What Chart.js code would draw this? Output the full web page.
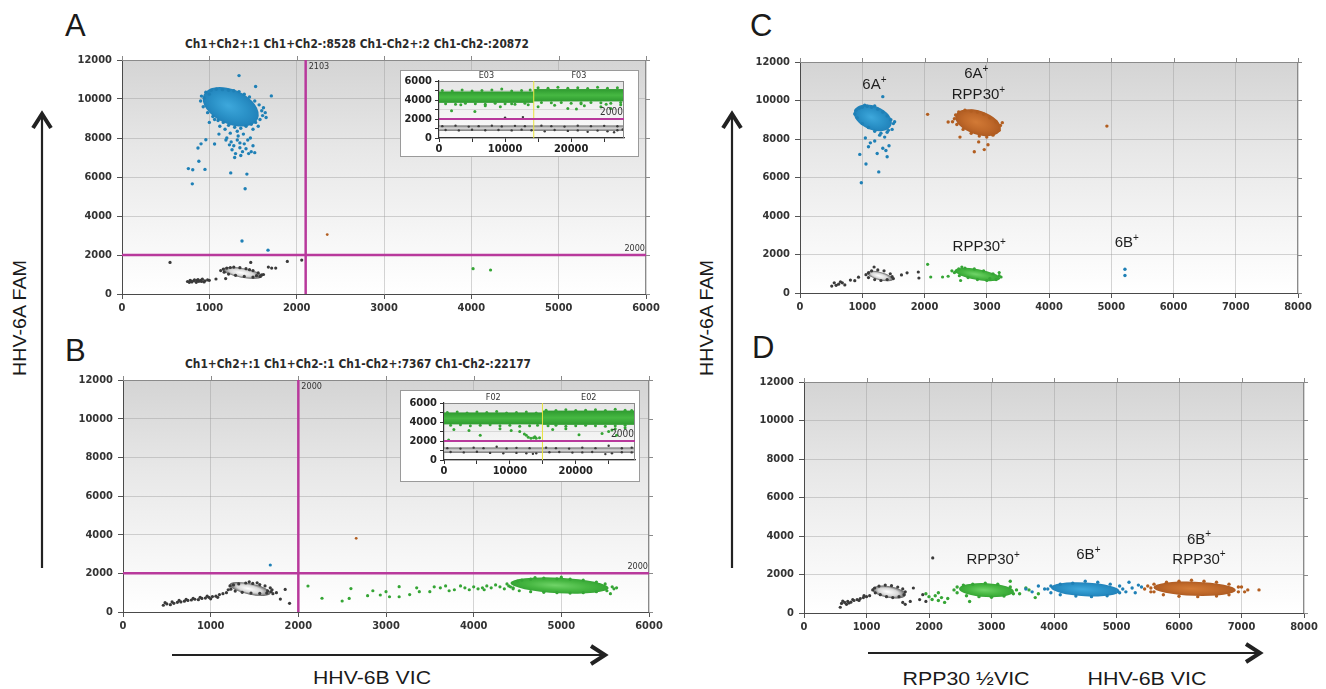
<!DOCTYPE html>
<html lang="en">
<head>
<meta charset="UTF-8">
<title>HHV-6A / HHV-6B droplet plots</title>
<script src="https://cdn.jsdelivr.net/npm/chart.js"></script>
<style>
  body { margin: 0; width: 1326px; height: 689px; background: #fff; position: relative; overflow: hidden; }
  .panel { position: absolute; }
  .inset { position: absolute; background: #fff; border: 1px solid #9a9a9a; box-sizing: border-box; }
  svg.deco { position: absolute; left: 0; top: 0; pointer-events: none; }
</style>
</head>
<body>

<svg class="deco" width="1326" height="689">
  <g font-family="Liberation Sans, Arial, sans-serif" fill="#1a1a1a">
    <text x="65" y="36" font-size="31">A</text>
    <text x="65" y="361" font-size="31">B</text>
    <text x="750" y="36" font-size="31">C</text>
    <text x="752" y="358" font-size="31">D</text>
    <text transform="translate(26,318) rotate(-90)" text-anchor="middle" font-size="19" textLength="116" lengthAdjust="spacingAndGlyphs">HHV-6A FAM</text>
    <text transform="translate(713,318) rotate(-90)" text-anchor="middle" font-size="19" textLength="116" lengthAdjust="spacingAndGlyphs">HHV-6A FAM</text>
    <text x="372" y="684" text-anchor="middle" font-size="19" textLength="118" lengthAdjust="spacingAndGlyphs">HHV-6B VIC</text>
    <text x="966" y="685" text-anchor="middle" font-size="19" textLength="127" lengthAdjust="spacingAndGlyphs">RPP30 ½VIC</text>
    <text x="1147" y="685" text-anchor="middle" font-size="19" textLength="119" lengthAdjust="spacingAndGlyphs">HHV-6B VIC</text>
  </g>
  <g font-family="DejaVu Sans Condensed, DejaVu Sans, sans-serif" font-weight="bold" font-size="12" fill="#2a2a2a">
    <text x="357" y="48" text-anchor="middle" textLength="344" lengthAdjust="spacingAndGlyphs">Ch1+Ch2+:1 Ch1+Ch2-:8528 Ch1-Ch2+:2 Ch1-Ch2-:20872</text>
    <text x="358" y="368" text-anchor="middle" textLength="346" lengthAdjust="spacingAndGlyphs">Ch1+Ch2+:1 Ch1+Ch2-:1 Ch1-Ch2+:7367 Ch1-Ch2-:22177</text>
  </g>
  <g stroke="#222" fill="none" stroke-linejoin="miter">
    <line x1="42" y1="568" x2="42" y2="116" stroke-width="2.2"/>
    <polyline points="33,128 42,114 51,128" stroke-width="4"/>
    <line x1="732" y1="568" x2="732" y2="116" stroke-width="2.2"/>
    <polyline points="723,128 732,114 741,128" stroke-width="4"/>
    <line x1="172" y1="655" x2="602" y2="655" stroke-width="2.2"/>
    <polyline points="591,646 605,655 591,664" stroke-width="4"/>
    <line x1="868" y1="653" x2="1257" y2="653" stroke-width="2.2"/>
    <polyline points="1246,644 1260,653 1246,662" stroke-width="4"/>
  </g>
</svg>

<div class="panel" style="left:60px;top:48px;"><canvas id="cA"></canvas></div>
<div class="panel" style="left:61px;top:368px;"><canvas id="cB"></canvas></div>
<div class="panel" style="left:738px;top:50px;"><canvas id="cC"></canvas></div>
<div class="panel" style="left:742px;top:370px;"><canvas id="cD"></canvas></div>
<div class="inset" style="left:400px;top:70px;width:239px;height:87px;"><canvas id="iA"></canvas></div>
<div class="inset" style="left:400px;top:390px;width:240px;height:92px;"><canvas id="iB"></canvas></div>

<script>
// ---- axis ticks ----
const famTicks = [0, 2000, 4000, 6000, 8000, 10000, 12000];
const vicTicksAB = [0, 1000, 2000, 3000, 4000, 5000, 6000];
const vicTicksCD = [0, 1000, 2000, 3000, 4000, 5000, 6000, 7000, 8000];
const insetEventTicks = [0, 5000, 10000, 15000, 20000, 25000];
const insetFamTicks = [0, 1000, 2000, 3000, 4000, 5000, 6000];

// ---- droplet data: flat [x, y, x, y ...] lists, x = VIC amplitude, y = FAM amplitude ----

// Panel A
const A_negDots = [750,640, 770,600, 780,700, 800,620, 820,680, 830,720, 850,600, 860,700, 880,650, 900,700,
  920,760, 940,620, 950,680, 980,720, 1000,700, 790,660, 870,740, 910,640,
  550,1620, 1076,770, 1187,790, 1474,1620, 1676,1380, 1714,1330, 1760,1330, 1893,1670, 2058,1740,
  1160,1280, 1200,1330, 1280,1380, 1350,1350, 1420,1300, 1500,1200, 1560,1080, 1600,980, 1580,900, 1500,870,
  1400,900, 1300,960, 1220,1020, 1170,1120, 1130,1200, 1620,1000, 1240,1360, 1460,1250, 1540,940];
const A_famDots = [1340,11200, 1530,10640, 1710,10160, 760,6430, 810,6370, 880,6810, 950,6390, 805,5650,
  1245,6210, 1430,6150, 1410,5400, 870,7490, 905,7700, 960,7910, 1060,7690, 1110,8200,
  1200,8000, 1250,7800, 1280,7600, 1320,7900, 1350,7500, 1380,7300, 1400,7700, 1300,7200, 1260,7400, 1420,7450,
  1450,7200, 1480,7300, 1500,7600, 1230,7650, 1360,7100, 1440,7900, 1330,8100, 1470,8000, 1290,7000, 1390,8200,
  1240,8250, 1520,7250, 1350,7750, 1190,7900, 1374,2720, 1672,2250,
  960,10350, 1020,10450, 1080,10500, 1150,10480, 1220,10450, 1280,10420, 1340,10380, 1400,10250, 1460,10100,
  1520,9900, 1570,9700, 1600,9400, 1610,9150, 1580,8950, 1530,8800, 1480,8700, 1420,8600, 1360,8500, 1290,8550,
  1220,8650, 1160,8800, 1100,8900, 1040,9100, 980,9300, 930,9600, 900,9900, 910,10150, 1640,9300, 1650,9050,
  1000,8800, 1120,8600, 1500,8450, 1560,8600, 1320,8350, 1180,8450, 940,10050, 1000,10250, 1620,9550, 1060,8950];
const A_vicDots = [4020,1300, 4220,1230];
const A_dblDots = [2350,3050];
// dense cluster cores: [centre x, centre y, spread x, spread y, tilt deg]
const A_negCore = [1380, 1080, 230, 250, 10];
const A_famCore = [1245, 9600, 340, 880, 24];
const A_thresh = [2103, 2000];

// Panel B
const B_negDots = [460,350, 480,480, 500,420, 540,380, 560,520, 580,450, 620,500, 640,600, 660,520, 700,560,
  720,650, 740,600, 780,620, 800,700, 820,660, 860,640, 880,760, 900,700, 940,720, 960,820, 980,760, 1000,680,
  1020,800, 1060,820, 1080,760, 1100,900, 1140,950, 1180,1000, 1200,1150,
  1850,1170, 1795,670, 1900,450, 1750,1000,
  1220,1350, 1260,1400, 1320,1450, 1400,1500, 1480,1480, 1560,1420, 1620,1350, 1680,1250, 1700,1150, 1690,1050,
  1640,980, 1560,960, 1460,980, 1360,1020, 1280,1080, 1230,1180, 1710,950, 1650,1100, 1440,1560, 1530,1510];
const B_famDots = [1680,2430];
const B_vicDots = [2110,1345, 2270,710, 2500,570, 2580,700, 2600,1210, 2790,845, 2935,880, 3040,790, 3150,1310,
  3150,790, 3270,900, 3380,1050, 3500,1050, 3550,1300, 3620,1250, 3680,1350, 3780,1150, 3850,1350, 3900,1250,
  3950,1150, 4000,1300, 4050,1200, 4100,1250, 4150,1350, 4200,1250, 4250,1400, 4300,1300, 4350,1200, 4400,1350,
  4450,1250, 3720,1100, 4120,1150, 3350,1250, 3000,1050, 2850,1100,
  4450,1200, 4500,1600, 4550,1650, 4650,1700, 4800,1750, 4950,1720, 5100,1700, 5250,1650, 5400,1550, 5500,1450,
  5580,1300, 5600,1200, 5520,1100, 5400,1050, 5250,1000, 5100,980, 4950,1000, 4800,1020, 4650,1050, 4520,1100,
  4420,1300, 4380,1450, 5630,1250, 5560,950, 4700,1780, 5000,1800];
const B_dblDots = [2660,3810];
const B_negCore = [1450, 1190, 240, 285, 12];
const B_vicCore = [4980, 1370, 560, 400, 3];
const B_thresh = [2000, 2000];

// Panel C
const C_negDots = [510,360, 550,530, 580,400, 620,460, 650,580, 680,530, 720,420, 810,670, 880,640, 940,820,
  1190,1350, 1630,940, 1720,1050, 1900,1090, 1910,780,
  1100,1050, 1150,1150, 1250,1200, 1350,1150, 1450,1000, 1480,850, 1400,700, 1300,650, 1200,700, 1100,800,
  1060,950, 1500,750];
const C_famDots = [960,7200, 1060,6700, 1265,6290, 985,5730, 1330,7520, 1400,7080, 1240,7250, 1130,7800,
  1050,8050, 1280,8200, 1430,7650, 1360,8100, 1100,7600, 1330,10200, 1200,7900, 1380,7400, 5220,1230, 5220,910,
  900,9500, 950,9600, 1000,9650, 1080,9700, 1150,9650, 1250,9550, 1330,9400, 1400,9200, 1460,9000, 1500,8800,
  1480,8500, 1400,8350, 1300,8300, 1200,8400, 1100,8600, 1000,8800, 920,9100, 880,9300, 1520,8900, 1420,8450,
  1040,9760, 1200,9720];
const C_vicDots = [2050,1490, 2100,830, 2290,830, 2380,870, 2480,1060, 2580,650, 3200,1060, 3230,830, 2440,1150,
  2550,1250, 2650,1300, 2800,1250, 2950,1150, 3100,1000, 3200,900, 3150,700, 3000,650, 2850,700, 2700,800,
  2560,900, 2500,1100, 2600,1350, 3050,750];
const C_dblDots = [2050,9280, 2380,8880, 4930,8670, 2800,7340, 2960,7450, 2870,7850, 3020,7700, 2570,8100,
  2550,9400, 2650,9500, 2750,9450, 2850,9400, 2950,9300, 3050,9100, 3150,8900, 3220,8700, 3200,8450, 3100,8200,
  3000,8100, 2880,8150, 2750,8300, 2620,8500, 2520,8750, 2480,9050, 2500,9250, 3250,8850, 2450,8900];
const C_negCore = [1285, 880, 217, 208, 15];
const C_famCore = [1170, 9100, 320, 620, 22];
const C_vicCore = [2850, 960, 370, 280, 10];
const C_dblCore = [2860, 8850, 380, 620, 18];
const C_labelMain = ['6A', '6A', 'RPP30', 'RPP30', '6B'];
const C_labelX = [1196, 2833, 2867, 2880, 5250];
const C_labelY = [10800, 11380, 10290, 2400, 2580];

// Panel D
const D_negDots = [580,300, 600,500, 620,620, 650,550, 680,450, 700,600, 720,520, 750,560, 780,700, 800,650,
  850,700, 880,650, 900,750, 950,800, 960,900, 1000,850, 1050,900,
  1580,550, 1620,450, 1700,600, 1750,1300, 1850,700, 1900,950, 1950,600, 2060,2860,
  1130,1300, 1200,1400, 1300,1450, 1400,1420, 1500,1350, 1580,1250, 1620,1100, 1600,950, 1520,850, 1420,800,
  1320,850, 1220,950, 1140,1050, 1100,1200];
const D_famDots = [3550,1250, 3650,1100, 3750,1400, 3850,1250, 5150,1100, 5200,1600, 5250,1300, 5300,1050,
  5350,1450, 5400,1350, 3950,1400, 4100,1500, 4300,1550, 4500,1650, 4700,1600, 4900,1500, 5050,1400, 5100,1250,
  5050,1050, 4850,900, 4600,850, 4350,880, 4100,950, 3950,1050, 3900,1250];
const D_vicDots = [1950,1000, 2000,850, 2050,700, 2100,900, 2150,650, 2150,1050, 2200,800, 2250,550, 2300,750,
  2450,1350, 2550,1450, 2700,1500, 2900,1550, 3100,1500, 3300,1350, 3400,1200, 3350,1000, 3200,880, 3000,820,
  2800,850, 2600,900, 2450,1050, 2400,1200, 3300,1650, 2650,600, 3450,1000, 3550,1300, 3600,1200, 3700,800, 3750,1000];
const D_dblDots = [5450,1250, 5500,1400, 5550,1100, 7050,1100, 7100,1200, 7280,1200, 7000,1350,
  5600,1500, 5800,1600, 6000,1650, 6200,1700, 6400,1650, 6600,1600, 6800,1500, 6950,1350, 6950,1100, 6800,950,
  6600,880, 6300,850, 6000,870, 5750,950, 5600,1100, 5550,1300];
const D_negCore = [1360, 1090, 272, 300, 10];
const D_vicCore = [2920, 1190, 440, 360, 3];
const D_famCore = [4500, 1230, 550, 360, 3];
const D_dblCore = [6250, 1260, 660, 370, 2];
const D_labelMain = ['RPP30', '6B', '6B', 'RPP30'];
const D_labelX = [3025, 4550, 6320, 6320];
const D_labelY = [2740, 3000, 3810, 2770];

// Insets: x = droplet event number, y = FAM amplitude
const IA_wells = ['E03', 'F03'];
const IA_split = 14340;
const IA_xMax = 28000;
const IA_vicBands = [[0, 14340, 3700, 4900], [14340, 28000, 3850, 5150]];
const IA_negBands = [[0, 28000, 750, 1320]];
const IA_vicDots = [1900,2870, 5430,2780, 9280,3290, 7000,3400, 11000,3600, 13500,3500, 15000,3300, 17500,3450,
  19500,3100, 20800,3050, 22000,3400, 24500,3300, 26000,3100, 27500,3500, 3300,3500, 21500,3600, 25300,3550,
  500,5000, 2000,4950, 3500,5050, 5000,4950, 6500,5000, 8000,5050, 9500,5150, 11000,4950, 12500,5000, 13800,5050,
  15000,5300, 16500,5250, 18000,5350, 19500,5250, 21000,5300, 22500,5200, 24000,5350, 25500,5250, 27000,5300,
  1000,3600, 2500,3550, 4000,3650, 5500,3600, 7000,3550, 8500,3650, 10000,3600, 11500,3550, 13000,3650,
  15500,3750, 17000,3700, 18500,3750, 20000,3650, 21500,3700, 23000,3750, 24500,3700, 26000,3650, 27500,3750];
const IA_negDots = [500,1250, 2500,1300, 4500,1200, 6000,1250, 8000,1300, 9500,1220, 11500,1280, 13000,1250,
  15500,1300, 17000,1250, 19000,1200, 21000,1300, 23000,1250, 25000,1280, 27000,1230,
  1000,850, 3000,800, 5000,870, 7000,820, 9000,850, 11000,800, 12500,880, 14000,820, 16000,700, 17500,850,
  19500,750, 21000,800, 22500,650, 24000,780, 25500,700, 27000,820, 27800,900, 26500,600, 10000,2150, 12700,2200];

const IB_wells = ['F02', 'E02'];
const IB_split = 14950;
const IB_xMax = 29000;
const IB_vicBands = [[0, 14950, 3750, 5000], [14950, 29000, 3700, 5200]];
const IB_negBands = [[0, 29000, 750, 1320]];
const IB_vicDots = [1500,3200, 3800,3100, 5500,2600, 8500,3300, 10200,3100, 11500,3000, 12200,2750, 12800,2400,
  13200,2300, 13600,2350, 14000,2300, 14500,2350, 12500,2600, 13800,2450, 16500,3200, 18500,3300, 20500,2650,
  24000,2800, 25000,3000, 26000,3300, 27500,3400, 26200,2600, 25500,3150, 700,2100,
  500,5000, 2000,5050, 3500,4950, 5000,5050, 6500,5000, 8000,5100, 9500,4950, 11000,5000, 12500,5050, 14000,4950,
  15500,5250, 17000,5200, 18500,5300, 20000,5200, 21500,5250, 23000,5300, 24500,5200, 26000,5350, 27500,5250,
  28500,5200, 1000,3650, 2500,3700, 4000,3600, 5500,3650, 7000,3700, 8500,3600, 10000,3650, 11500,3550,
  13000,3600, 14200,3650, 15800,3600, 17000,3650, 18500,3550, 20000,3600, 21500,3650, 23000,3600, 24500,3550,
  26000,3600, 27500,3650];
const IB_negDots = [500,1250, 2500,1200, 4500,1300, 6000,1250, 8000,1400, 9500,1220, 11000,1280, 13000,1250,
  15500,1300, 17000,1250, 19000,1200, 21000,1300, 23000,1250, 25000,1500, 27000,1230, 28500,1300,
  1000,850, 3000,800, 5000,870, 7000,750, 9000,700, 11000,750, 12500,700, 13500,650, 14000,700, 16000,820,
  17500,850, 19500,780, 21000,800, 22500,850, 24500,620, 25500,700, 27000,820, 28500,800];

const threshLevel = 2000;

// ---- styles ----
const TF = '"DejaVu Sans Condensed", "DejaVu Sans", sans-serif';
const LF = '"Liberation Sans", Arial, sans-serif';
const POP = {
  neg: { dot: '#3a3a3a', core: ['#ffffff', '#d8d8d8', '#606060'] },
  fam: { dot: '#1f80b6', core: ['#3ea8dc', '#2b92c8', '#2182ba'] },
  vic: { dot: '#35a535', core: ['#70d468', '#47b742', '#35a534'] },
  dbl: { dot: '#b25e20', core: ['#d27a36', '#c0692a', '#ae5b22'] }
};
const MAGENTA = '#b8399c';

function pts(flat) {
  const out = [];
  for (let i = 0; i < flat.length; i += 2) out.push({ x: flat[i], y: flat[i + 1] });
  return out;
}

function dotSet(flat, pop, r) {
  return { data: pts(flat), backgroundColor: POP[pop].dot, borderWidth: 0,
           pointRadius: r, pointHoverRadius: r };
}

function drawCore(ctx, xs, ys, c, pal) {
  const px = xs.getPixelForValue(c[0]), py = ys.getPixelForValue(c[1]);
  const rx = Math.abs(xs.getPixelForValue(c[0] + c[2]) - px);
  const ry = Math.abs(ys.getPixelForValue(c[1] + c[3]) - py);
  ctx.save();
  ctx.translate(px, py);
  ctx.rotate(c[4] * Math.PI / 180);
  ctx.scale(1, ry / rx);
  const g = ctx.createRadialGradient(-rx * 0.1, 0, 0, 0, 0, rx);
  g.addColorStop(0, pal[0]);
  g.addColorStop(0.6, pal[1]);
  g.addColorStop(1, pal[2]);
  ctx.fillStyle = g;
  ctx.beginPath();
  ctx.arc(0, 0, rx, 0, Math.PI * 2);
  ctx.fill();
  ctx.restore();
}

function drawBand(ctx, xs, ys, b, pal) {
  const x1 = xs.getPixelForValue(b[0]), x2 = xs.getPixelForValue(b[1]);
  const y1 = ys.getPixelForValue(b[3]), y2 = ys.getPixelForValue(b[2]);
  const g = ctx.createLinearGradient(0, y1, 0, y2);
  g.addColorStop(0, pal[2]);
  g.addColorStop(0.5, pal[1]);
  g.addColorStop(1, pal[2]);
  ctx.fillStyle = g;
  ctx.fillRect(x1, y1, x2 - x1, y2 - y1);
}

function supLabel(ctx, x, y, main) {
  ctx.textBaseline = 'middle';
  ctx.textAlign = 'left';
  ctx.fillStyle = '#1e1e1e';
  ctx.font = '15px ' + LF;
  const w1 = ctx.measureText(main).width;
  ctx.font = '10px ' + LF;
  const w2 = ctx.measureText('+').width;
  const x0 = x - (w1 + w2) / 2;
  ctx.font = '15px ' + LF;
  ctx.fillText(main, x0, y);
  ctx.font = '10px ' + LF;
  ctx.fillText('+', x0 + w1, y - 5);
}

// one plugin per chart, closing over its extra marks
function overlay(ov) {
  return {
    id: 'overlay',
    beforeDraw(chart) {
      const a = chart.chartArea, ctx = chart.ctx;
      const g = ctx.createLinearGradient(0, a.top, 0, a.bottom);
      const st = ov.bg || ['#d4d4d4', '#e8e8e8', '#f6f6f6', '#ffffff'];
      g.addColorStop(0, st[0]); g.addColorStop(0.4, st[1]); g.addColorStop(0.75, st[2]); g.addColorStop(1, st[3]);
      ctx.save();
      ctx.fillStyle = g;
      ctx.fillRect(a.left, a.top, a.right - a.left, a.bottom - a.top);
      ctx.restore();
    },
    beforeDatasetsDraw(chart) {
      const a = chart.chartArea, ctx = chart.ctx, xs = chart.scales.x, ys = chart.scales.y;
      ctx.save();
      ctx.beginPath();
      ctx.rect(a.left, a.top, a.right - a.left, a.bottom - a.top);
      ctx.clip();
      (ov.bands || []).forEach(b => drawBand(ctx, xs, ys, b.v, b.pal));
      (ov.cores || []).forEach(c => drawCore(ctx, xs, ys, c.v, POP[c.pop].core));
      ctx.restore();
    },
    afterDatasetsDraw(chart) {
      const a = chart.chartArea, ctx = chart.ctx, xs = chart.scales.x, ys = chart.scales.y;
      ctx.save();
      // frame + outer tick marks on top / right
      ctx.strokeStyle = '#8a8a8a';
      ctx.lineWidth = 1;
      ctx.beginPath();
      ctx.moveTo(a.left, a.top + 0.5); ctx.lineTo(a.right, a.top + 0.5);
      ctx.moveTo(a.right - 0.5, a.top); ctx.lineTo(a.right - 0.5, a.bottom);
      if (ov.frameTicks) {
        xs.ticks.forEach(t => { const p = Math.round(xs.getPixelForValue(t.value)) + 0.5; ctx.moveTo(p, a.top); ctx.lineTo(p, a.top - 4); });
        ys.ticks.forEach(t => { const p = Math.round(ys.getPixelForValue(t.value)) + 0.5; ctx.moveTo(a.right, p); ctx.lineTo(a.right + 4, p); });
      }
      ctx.stroke();
      // well split
      if (ov.split != null) {
        const sx = xs.getPixelForValue(ov.split);
        ctx.strokeStyle = '#e8e23c';
        ctx.lineWidth = 1;
        ctx.beginPath(); ctx.moveTo(sx, a.top); ctx.lineTo(sx, a.bottom); ctx.stroke();
        ctx.fillStyle = '#333';
        ctx.font = '9px ' + TF;
        ctx.textAlign = 'center';
        ctx.textBaseline = 'bottom';
        ctx.fillText(ov.wells[0], xs.getPixelForValue(ov.split / 2), a.top - 1);
        ctx.fillText(ov.wells[1], xs.getPixelForValue((ov.split + xs.max) / 2), a.top - 1);
      }
      // thresholds
      ctx.strokeStyle = MAGENTA;
      ctx.lineWidth = ov.lineW || 2.5;
      ctx.fillStyle = '#333';
      ctx.font = (ov.thFont || 9) + 'px ' + TF;
      if (ov.vLine != null) {
        const vx = xs.getPixelForValue(ov.vLine);
        ctx.beginPath(); ctx.moveTo(vx, a.top); ctx.lineTo(vx, a.bottom); ctx.stroke();
        ctx.textAlign = 'left'; ctx.textBaseline = 'top';
        ctx.fillText(String(ov.vLine), vx + 3, a.top + 2);
      }
      if (ov.hLine != null) {
        const hy = ys.getPixelForValue(ov.hLine);
        ctx.beginPath(); ctx.moveTo(a.left, hy); ctx.lineTo(a.right, hy); ctx.stroke();
        ctx.textAlign = 'right'; ctx.textBaseline = 'bottom';
        ctx.fillText(String(ov.hLine), a.right - 1, hy - 2);
      }
      // population labels
      (ov.labels || []).forEach(l => supLabel(ctx, xs.getPixelForValue(l[1]), ys.getPixelForValue(l[2]), l[0]));
      ctx.restore();
    }
  };
}

const tickFont = { family: TF, size: 11, weight: 'bold' };
const fixTicks = list => (s => { s.ticks = list.map(v => ({ value: v })); });

function mainChart(id, area, xTicks, sets, ov) {
  const padT = 12, padR = 18, yW = 62, xH = 26;
  const cv = document.getElementById(id);
  cv.width = area[2] - area[0] + yW + padR;
  cv.height = area[3] - area[1] + padT + xH;
  return new Chart(cv, {
    type: 'scatter',
    data: { datasets: sets },
    options: {
      responsive: false, animation: false, events: [],
      layout: { padding: { top: padT, right: padR, left: 0, bottom: 0 } },
      plugins: { legend: { display: false }, tooltip: { enabled: false } },
      scales: {
        x: { type: 'linear', min: 0, max: xTicks[xTicks.length - 1],
             afterBuildTicks: fixTicks(xTicks),
             ticks: { autoSkip: false, maxRotation: 0, padding: 3, color: '#333', font: tickFont, callback: v => String(v) },
             grid: { color: 'rgba(150,150,150,0.4)', tickLength: 5, tickColor: '#555' },
             border: { color: '#4a4a4a', width: 1 },
             afterFit(s) { s.height = xH; } },
        y: { type: 'linear', min: 0, max: famTicks[famTicks.length - 1],
             afterBuildTicks: fixTicks(famTicks),
             ticks: { autoSkip: false, padding: 5, color: '#333', font: tickFont, callback: v => String(v) },
             grid: { color: 'rgba(150,150,150,0.4)', tickLength: 5, tickColor: '#555' },
             border: { color: '#4a4a4a', width: 1 },
             afterFit(s) { s.width = yW; } }
      }
    },
    plugins: [overlay(ov)]
  });
}

function insetChart(id, w, h, pad, xMax, sets, ov) {
  const cv = document.getElementById(id);
  cv.width = w; cv.height = h;
  return new Chart(cv, {
    type: 'scatter',
    data: { datasets: sets },
    options: {
      responsive: false, animation: false, events: [],
      layout: { padding: { top: pad[0], right: pad[1], left: 0, bottom: 0 } },
      plugins: { legend: { display: false }, tooltip: { enabled: false } },
      scales: {
        x: { type: 'linear', min: 0, max: xMax,
             afterBuildTicks: fixTicks(insetEventTicks),
             ticks: { autoSkip: false, maxRotation: 0, padding: 1, color: '#222',
                      font: tickFont, callback: v => (v % 10000 === 0 ? String(v) : '') },
             grid: { display: true, drawOnChartArea: false, tickLength: 4, tickColor: '#333' },
             border: { color: '#333', width: 1.2 },
             afterFit(s) { s.height = pad[3]; } },
        y: { type: 'linear', min: 0, max: 6000,
             afterBuildTicks: fixTicks(insetFamTicks),
             ticks: { autoSkip: false, padding: 3, color: '#222',
                      font: tickFont, callback: v => (v % 2000 === 0 ? String(v) : '') },
             grid: { color: 'rgba(170,170,170,0.35)', tickLength: 4, tickColor: '#333' },
             border: { color: '#333', width: 1.2 },
             afterFit(s) { s.width = pad[2]; } }
      }
    },
    plugins: [overlay(ov)]
  });
}

function labelRows(main, xs, ys) {
  return main.map((m, i) => [m, xs[i], ys[i]]);
}

mainChart('cA', [122, 60, 646, 294], vicTicksAB,
  [dotSet(A_negDots, 'neg', 1.6), dotSet(A_famDots, 'fam', 1.7), dotSet(A_vicDots, 'vic', 1.6), dotSet(A_dblDots, 'dbl', 1.4)],
  { cores: [{ v: A_negCore, pop: 'neg' }, { v: A_famCore, pop: 'fam' }],
    vLine: A_thresh[0], hLine: A_thresh[1], frameTicks: true });

mainChart('cB', [123, 380, 649, 612], vicTicksAB,
  [dotSet(B_negDots, 'neg', 1.6), dotSet(B_famDots, 'fam', 1.6), dotSet(B_vicDots, 'vic', 1.6), dotSet(B_dblDots, 'dbl', 1.4)],
  { cores: [{ v: B_negCore, pop: 'neg' }, { v: B_vicCore, pop: 'vic' }],
    vLine: B_thresh[0], hLine: B_thresh[1], frameTicks: true });

mainChart('cC', [800, 62, 1298, 293], vicTicksCD,
  [dotSet(C_negDots, 'neg', 1.6), dotSet(C_famDots, 'fam', 1.7), dotSet(C_vicDots, 'vic', 1.6), dotSet(C_dblDots, 'dbl', 1.7)],
  { cores: [{ v: C_negCore, pop: 'neg' }, { v: C_famCore, pop: 'fam' }, { v: C_vicCore, pop: 'vic' }, { v: C_dblCore, pop: 'dbl' }],
    labels: labelRows(C_labelMain, C_labelX, C_labelY), frameTicks: true });

mainChart('cD', [804, 382, 1304, 613], vicTicksCD,
  [dotSet(D_negDots, 'neg', 1.6), dotSet(D_famDots, 'fam', 1.7), dotSet(D_vicDots, 'vic', 1.7), dotSet(D_dblDots, 'dbl', 1.7)],
  { cores: [{ v: D_negCore, pop: 'neg' }, { v: D_vicCore, pop: 'vic' }, { v: D_famCore, pop: 'fam' }, { v: D_dblCore, pop: 'dbl' }],
    labels: labelRows(D_labelMain, D_labelX, D_labelY), frameTicks: true });

const greenBand = ['#5cc957', '#46b842', '#2e9a2f'];
const grayBand = ['#ffffff', '#dedede', '#6a6a6a'];

insetChart('iA', 237, 85, [10, 14, 38, 18], IA_xMax,
  [dotSet(IA_negDots, 'neg', 1.2), dotSet(IA_vicDots, 'vic', 1.5)],
  { bands: IA_vicBands.map(b => ({ v: b, pal: greenBand })).concat(IA_negBands.map(b => ({ v: b, pal: grayBand }))),
    bg: ['#e6e6e6', '#efefef', '#f7f7f7', '#fbfbfb'],
    split: IA_split, wells: IA_wells, hLine: threshLevel, lineW: 2, thFont: 10 });

insetChart('iB', 238, 90, [12, 4, 43, 21], IB_xMax,
  [dotSet(IB_negDots, 'neg', 1.2), dotSet(IB_vicDots, 'vic', 1.5)],
  { bands: IB_vicBands.map(b => ({ v: b, pal: greenBand })).concat(IB_negBands.map(b => ({ v: b, pal: grayBand }))),
    bg: ['#e6e6e6', '#efefef', '#f7f7f7', '#fbfbfb'],
    split: IB_split, wells: IB_wells, hLine: threshLevel, lineW: 2, thFont: 10 });
</script>
</body>
</html>
